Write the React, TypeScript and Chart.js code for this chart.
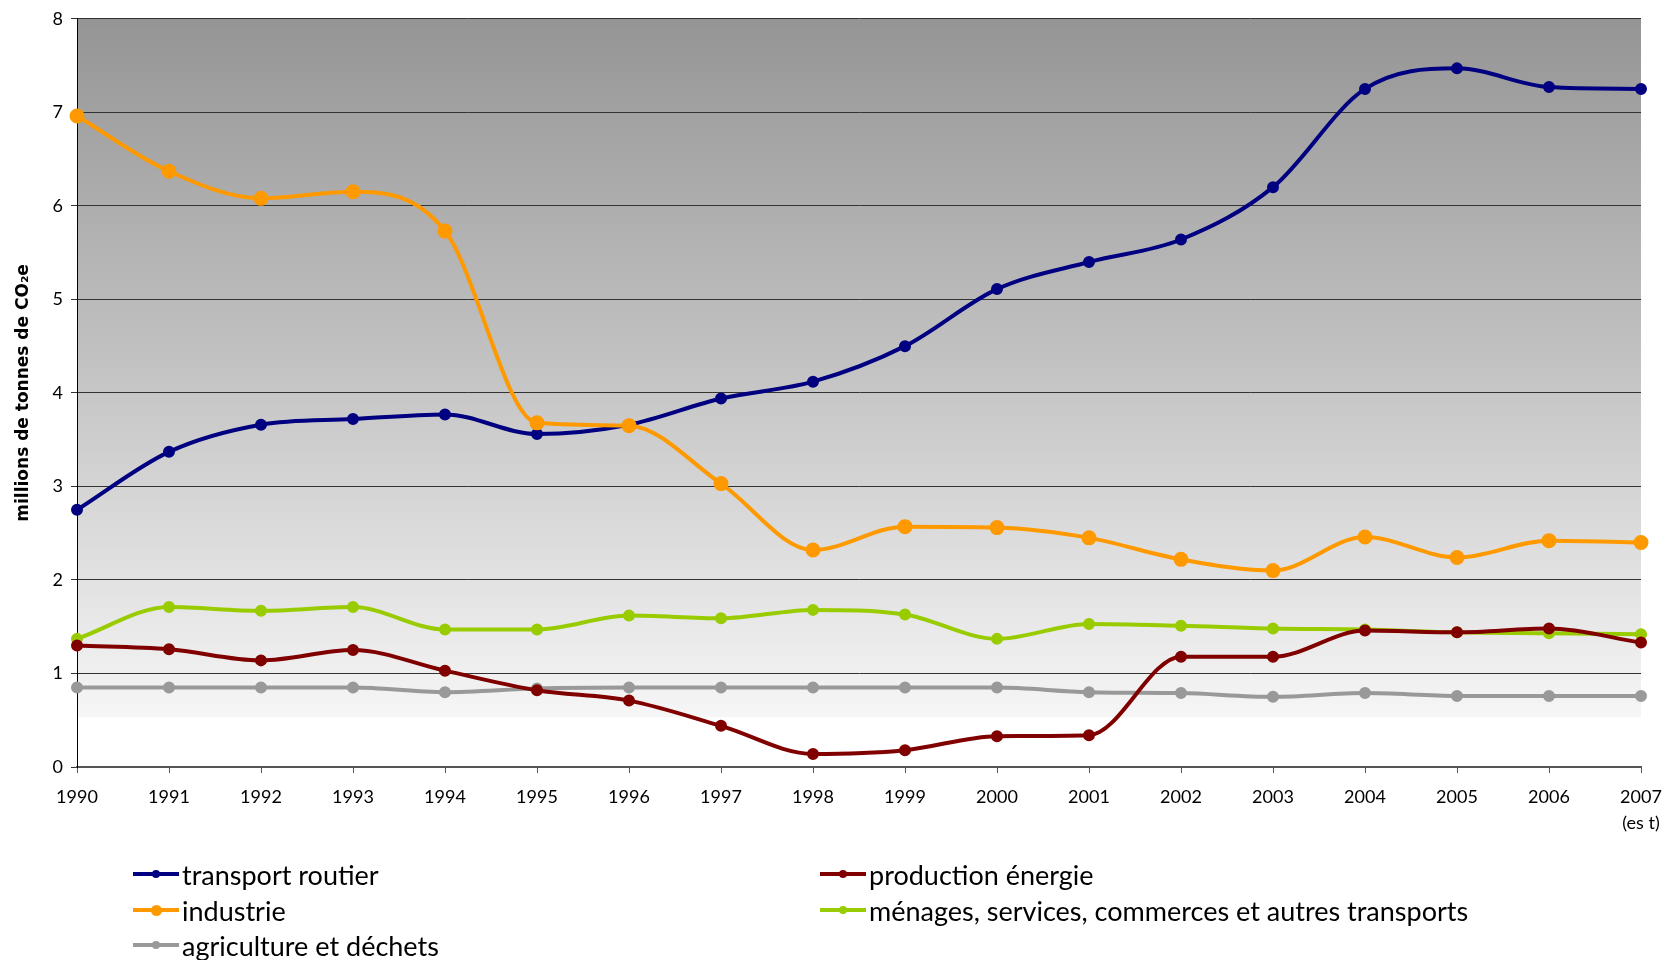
import React, { useEffect, useRef } from "react";
import { Chart, registerables } from "chart.js";

Chart.register(...registerables);

const years: (string | string[])[] = [
  "1990", "1991", "1992", "1993", "1994", "1995", "1996", "1997", "1998",
  "1999", "2000", "2001", "2002", "2003", "2004", "2005", "2006", ["2007", "(es t)"],
];

const transportRoutier = [2.75, 3.37, 3.66, 3.72, 3.77, 3.56, 3.66, 3.94, 4.12, 4.5, 5.11, 5.4, 5.64, 6.2, 7.25, 7.47, 7.27, 7.25];
const productionEnergie = [1.3, 1.26, 1.14, 1.25, 1.03, 0.82, 0.71, 0.44, 0.14, 0.18, 0.33, 0.34, 1.18, 1.18, 1.46, 1.44, 1.48, 1.33];
const industrie = [6.96, 6.37, 6.08, 6.15, 5.73, 3.68, 3.65, 3.03, 2.32, 2.57, 2.56, 2.45, 2.22, 2.1, 2.46, 2.24, 2.42, 2.4];
const menages = [1.37, 1.71, 1.67, 1.71, 1.47, 1.47, 1.62, 1.59, 1.68, 1.63, 1.37, 1.53, 1.51, 1.48, 1.47, 1.44, 1.43, 1.42];
const agriculture = [0.85, 0.85, 0.85, 0.85, 0.8, 0.84, 0.85, 0.85, 0.85, 0.85, 0.85, 0.8, 0.79, 0.75, 0.79, 0.76, 0.76, 0.76];

const seriesNames = [
  "transport routier",
  "production énergie",
  "industrie",
  "ménages, services, commerces et autres transports",
  "agriculture et déchets",
];
const seriesColors = ["#000080", "#800000", "#FF9900", "#99CC00", "#999999"];
const seriesRadius = [4, 4, 5.5, 4, 4];

const FONT = "Lato, 'Open Sans', sans-serif";

const bgPlugin = {
  id: "bgGradient",
  beforeDraw(chart: any) {
    const { ctx, chartArea } = chart;
    const y = chart.scales.y;
    const stop = y.getPixelForValue(0.53);
    const g = ctx.createLinearGradient(0, chartArea.top, 0, stop);
    g.addColorStop(0, "#959595");
    g.addColorStop(0.5, "#c3c3c3");
    g.addColorStop(1, "#f6f6f6");
    ctx.save();
    ctx.fillStyle = g;
    ctx.fillRect(chartArea.left, chartArea.top, chartArea.right - chartArea.left, stop - chartArea.top);
    ctx.fillStyle = "#ffffff";
    ctx.fillRect(chartArea.left, stop, chartArea.right - chartArea.left, chartArea.bottom - stop);
    ctx.restore();
  },
};

export default function App() {
  const ref = useRef<HTMLCanvasElement>(null);

  useEffect(() => {
    document.body.style.margin = "0";
    const values = [transportRoutier, productionEnergie, industrie, menages, agriculture];
    const chart = new Chart(ref.current!, {
      type: "line",
      data: {
        labels: years,
        datasets: values.map((v, i) => ({
          label: seriesNames[i],
          data: v,
          borderColor: seriesColors[i],
          backgroundColor: seriesColors[i],
          pointBackgroundColor: seriesColors[i],
          pointBorderColor: seriesColors[i],
          pointRadius: seriesRadius[i],
          borderWidth: 4,
          cubicInterpolationMode: "monotone" as const,
          fill: false,
          order: [1, 2, 0, 3, 4][i],
        })),
      },
      options: {
        responsive: false,
        animation: false,
        maintainAspectRatio: false,
        layout: { padding: { left: 0, right: 32, top: 14, bottom: 121 } },
        plugins: {
          legend: { display: false },
          tooltip: { enabled: false },
        },
        scales: {
          x: {
            offset: false,
            grid: {
              drawOnChartArea: false,
              drawTicks: true,
              tickLength: 6,
              tickColor: "#555555",
            },
            border: { color: "#555555", width: 2 },
            ticks: {
              color: "#000000",
              font: { family: FONT, size: 18, lineHeight: 1.45 },
              padding: 11,
              maxRotation: 0,
              autoSkip: false,
            },
            afterFit(scale: any) {
              scale.height = 72;
            },
          },
          y: {
            min: 0,
            max: 8,
            ticks: {
              stepSize: 1,
              color: "#000000",
              font: { family: FONT, size: 18 },
              padding: 8,
            },
            grid: {
              color: "#333333",
              lineWidth: 1,
              tickLength: 6,
              tickColor: "#333333",
            },
            border: { color: "#000000", width: 1 },
            title: {
              display: true,
              text: "millions de tonnes de CO₂e",
              color: "#000000",
              font: { family: "'DejaVu Sans', sans-serif", size: 17, weight: "bold" },
              padding: { top: 13, bottom: 0 },
            },
            afterFit(scale: any) {
              scale.width = 77;
            },
          },
        },
      },
      plugins: [bgPlugin],
    });
    return () => chart.destroy();
  }, []);

  const legendPos = [
    { left: 133, top: 874 },
    { left: 820, top: 874 },
    { left: 133, top: 910 },
    { left: 820, top: 910 },
    { left: 133, top: 945 },
  ];

  return (
    <div style={{ position: "relative", width: 1673, height: 960 }}>
      <canvas ref={ref} width={1673} height={960} style={{ display: "block" }} />
      {seriesNames.map((name, i) => (
        <div
          key={name}
          style={{
            position: "absolute",
            left: legendPos[i].left,
            top: legendPos[i].top - 16,
            height: 32,
            display: "flex",
            alignItems: "center",
            fontFamily: FONT,
            fontSize: 27,
            color: "#000",
            whiteSpace: "nowrap",
          }}
        >
          <span style={{ position: "relative", width: 46, height: 32, marginRight: 3, display: "inline-block" }}>
            <span
              style={{
                position: "absolute",
                left: 0,
                top: 14,
                width: 46,
                height: 4,
                background: seriesColors[i],
              }}
            />
            <span
              style={{
                position: "absolute",
                left: 23 - seriesRadius[i],
                top: 16 - seriesRadius[i],
                width: seriesRadius[i] * 2,
                height: seriesRadius[i] * 2,
                borderRadius: "50%",
                background: seriesColors[i],
              }}
            />
          </span>
          <span>{name}</span>
        </div>
      ))}
    </div>
  );
}
